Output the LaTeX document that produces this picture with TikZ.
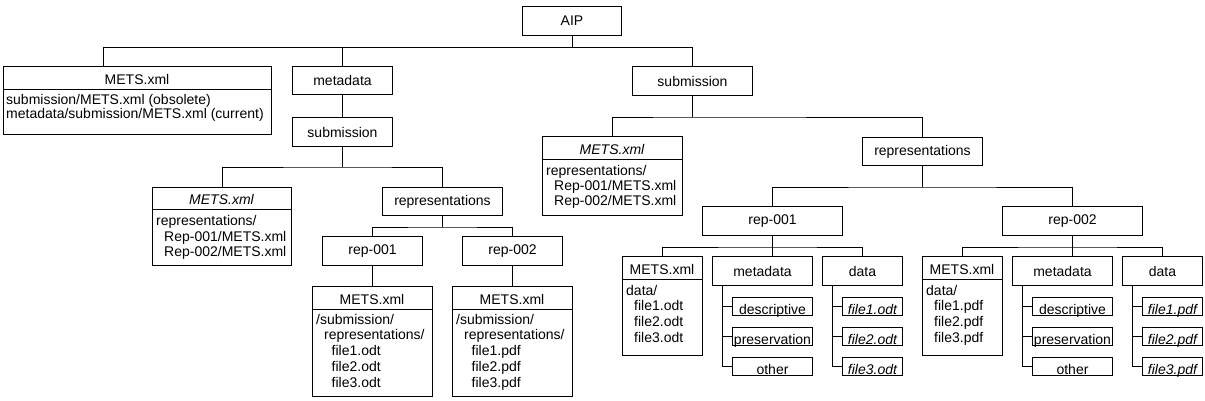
\documentclass[tikz,border=0pt]{standalone}
\usepackage{fontspec}
\setmainfont{Liberation Sans}
\newcommand\dfont{\fontsize{14}{16}\selectfont}
\tikzset{
  box/.style={draw, line width=1pt, inner sep=0pt, anchor=north west, font=\dfont},
  smallbox/.style={box, text height=16pt, text depth=0pt},
  lbl/.style={inner sep=0pt, font=\dfont},
  conn/.style={line width=1pt}
}
% name x1 y1 x2 y2 text
\newcommand\mkbox[6]{\node[box, minimum width={(#4-#2)*1pt}, minimum height={(#5-#3)*1pt}] (#1) at (#2,#3) {#6};}
\newcommand\mksmall[6]{\node[smallbox, minimum width={(#4-#2)*1pt}, minimum height={(#5-#3)*1pt}] (#1) at (#2,#3) {#6};}
% name x1 y1 x2 y2 divider title
\newcommand\mksplit[7]{%
  \mkbox{#1}{#2}{#3}{#4}{#5}{}
  \draw[conn] (#1.west |- 0,#6) -- (#1.east |- 0,#6);
  \node[lbl, anchor=base] (#1-t) at ({(#2+#4)/2},{#6-4.5}) {#7};
}
% name x firstbaseline skip lines
\newcommand\mkbody[5]{%
  \foreach \lin [count=\i] in {#5} {\node[lbl, anchor=base west] (#1-\i) at (#2,{#3+(\i-1)*#4}) {\lin};}
}
\begin{document}
\begin{tikzpicture}[x=1pt,y=-1pt]
\useasboundingbox (0,0) rectangle (1205,400);
\fill[white] (0,0) rectangle (1205,400);

% top level
\mkbox{aip}{522}{6}{621}{35}{AIP}
\mksplit{mets0}{3}{66}{271}{134}{89}{METS.xml}
\mkbody{mets0}{6}{104.5}{14}{submission/METS.xml (obsolete),metadata/submission/METS.xml (current)}
\mkbox{meta0}{292}{66}{392}{94}{metadata}
\mkbox{subR}{632}{66}{752}{95}{submission}

% metadata branch
\mkbox{sub0}{292}{117}{392}{146}{submission}
\mksplit{metsL}{152}{187}{291}{265}{209}{\itshape METS.xml}
\mkbody{metsL}{156}{225.5}{15.5}{representations/,\hspace*{8pt}Rep-001/METS.xml,\hspace*{8pt}Rep-002/METS.xml}
\mkbox{repsL}{382}{187}{502}{215}{representations}
\mkbox{rep1L}{322}{236}{422}{265}{rep-001}
\mkbox{rep2L}{462}{236}{562}{265}{rep-002}
\mksplit{mets1L}{312}{286}{432}{396}{309}{METS.xml}
\mkbody{mets1L}{316}{324}{15.8}{/submission/,\hspace*{8pt}representations/,\hspace*{15.5pt}file1.odt,\hspace*{15.5pt}file2.odt,\hspace*{15.5pt}file3.odt}
\mksplit{mets2L}{452}{286}{572}{396}{309}{METS.xml}
\mkbody{mets2L}{456}{324}{15.8}{/submission/,\hspace*{8pt}representations/,\hspace*{15.5pt}file1.pdf,\hspace*{15.5pt}file2.pdf,\hspace*{15.5pt}file3.pdf}

% submission branch
\mksplit{metsR}{542}{136}{682}{215}{159}{\itshape METS.xml}
\mkbody{metsR}{546}{175.5}{15}{representations/,\hspace*{8pt}Rep-001/METS.xml,\hspace*{8pt}Rep-002/METS.xml}
\mkbox{repsR}{862}{137}{982}{165}{representations}
\mkbox{rep1R}{702}{206}{842}{235}{rep-001}
\mkbox{rep2R}{1002}{206}{1142}{235}{rep-002}

% rep-001 children
\mksplit{metsA}{622}{256}{702}{355}{279}{METS.xml}
\mkbody{metsA}{626}{295}{15.8}{data/,\hspace*{8pt}file1.odt,\hspace*{8pt}file2.odt,\hspace*{8pt}file3.odt}
\mkbox{metaA}{712}{256}{812}{285}{metadata}
\mkbox{dataA}{822}{256}{902}{285}{data}
\mksmall{descA}{732}{297}{812}{315}{descriptive}
\mksmall{presA}{732}{327}{812}{345}{preservation}
\mksmall{othA}{732}{357}{812}{375}{other}
\mksmall{fa1}{842}{297}{902}{315}{\itshape file1.odt}
\mksmall{fa2}{842}{327}{902}{345}{\itshape file2.odt}
\mksmall{fa3}{842}{357}{902}{375}{\itshape file3.odt}

% rep-002 children
\mksplit{metsB}{922}{256}{1002}{355}{279}{METS.xml}
\mkbody{metsB}{926}{295}{15.8}{data/,\hspace*{8pt}file1.pdf,\hspace*{8pt}file2.pdf,\hspace*{8pt}file3.pdf}
\mkbox{metaB}{1012}{256}{1112}{285}{metadata}
\mkbox{dataB}{1122}{256}{1202}{285}{data}
\mksmall{descB}{1032}{297}{1112}{315}{descriptive}
\mksmall{presB}{1032}{327}{1112}{345}{preservation}
\mksmall{othB}{1032}{357}{1112}{375}{other}
\mksmall{fb1}{1142}{297}{1202}{315}{\itshape file1.pdf}
\mksmall{fb2}{1142}{327}{1202}{345}{\itshape file2.pdf}
\mksmall{fb3}{1142}{357}{1202}{375}{\itshape file3.pdf}

% connectors
\path (aip.south) ++(0,11) coordinate (b0);
\draw[conn] (aip.south) -- (b0);
\draw[conn] ([xshift=-34pt]mets0.north) |- (subR.north |- b0) -- (subR.north);
\draw[conn] (meta0.north |- b0) -- (meta0.north);
\draw[conn] (meta0.south) -- (sub0.north);

\draw[conn] (sub0.south) -- ++(0,20) coordinate (b1);
\draw[conn] (metsL.north) |- (b1) -| (repsL.north);
\draw[conn] (repsL.south) -- ++(0,11) coordinate (b2);
\draw[conn] (rep1L.north) |- (b2) -| (rep2L.north);
\draw[conn] (rep1L.south) -- (mets1L.north);
\draw[conn] (rep2L.south) -- (mets2L.north);

\draw[conn] (subR.south) -- ++(0,21) coordinate (b3);
\draw[conn] (metsR.north) |- (b3) -| (repsR.north);
\draw[conn] (repsR.south) -- ++(0,21) coordinate (b4);
\draw[conn] (rep1R.north) |- (b4) -| (rep2R.north);

\draw[conn] (rep1R.south) -- ++(0,11) coordinate (b5);
\draw[conn] (metsA.north) |- (b5) -| (dataA.north);
\draw[conn] (b5) -- (b5 |- metaA.north);
\draw[conn] ([xshift=10pt]metaA.south west) |- (othA.west);
\draw[conn] (descA.west) -- ++(-10,0);
\draw[conn] (presA.west) -- ++(-10,0);
\draw[conn] ([xshift=10pt]dataA.south west) |- (fa3.west);
\draw[conn] (fa1.west) -- ++(-10,0);
\draw[conn] (fa2.west) -- ++(-10,0);

\draw[conn] (rep2R.south) -- ++(0,11) coordinate (b6);
\draw[conn] (metsB.north) |- (b6) -| (dataB.north);
\draw[conn] (b6) -- (b6 |- metaB.north);
\draw[conn] ([xshift=10pt]metaB.south west) |- (othB.west);
\draw[conn] (descB.west) -- ++(-10,0);
\draw[conn] (presB.west) -- ++(-10,0);
\draw[conn] ([xshift=10pt]dataB.south west) |- (fb3.west);
\draw[conn] (fb1.west) -- ++(-10,0);
\draw[conn] (fb2.west) -- ++(-10,0);
\end{tikzpicture}
\end{document}
